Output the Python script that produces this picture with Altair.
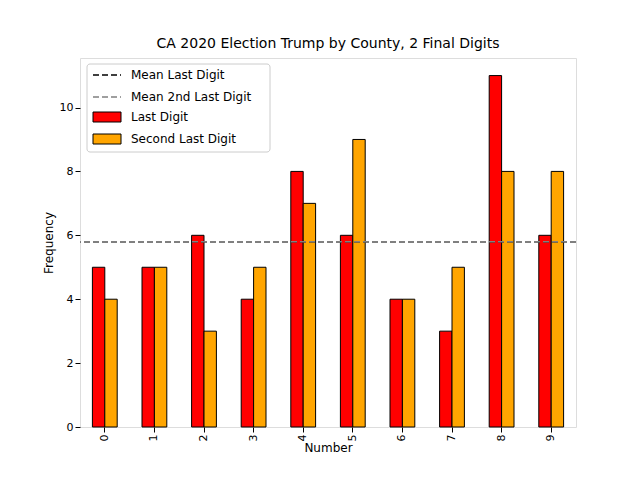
import altair as alt
import pandas as pd

digits = [str(i) for i in range(10)]
last_digit = [5, 5, 6, 4, 8, 6, 4, 3, 11, 6]
second_last = [4, 5, 3, 5, 7, 9, 4, 5, 8, 8]
series_names = ["Last Digit", "Second Last Digit"]
colors = ["#ff0000", "#ffa500"]

rows = []
for d, a, b in zip(digits, last_digit, second_last):
    rows.append({"Number": d, "series": series_names[0], "value": a})
    rows.append({"Number": d, "series": series_names[1], "value": b})
df = pd.DataFrame(rows)
mean_last = sum(last_digit) / len(last_digit)
mean_second = sum(second_last) / len(second_last)

yscale = alt.Scale(domain=[0, 11.55], nice=False)
bars = alt.Chart(df).mark_bar(stroke="black", strokeWidth=1).encode(
    x=alt.X("Number:N", sort=digits, title="Number",
            scale=alt.Scale(paddingInner=0.5, paddingOuter=0.25),
            axis=alt.Axis(labelAngle=-90, grid=False, domain=False, tickColor="black",
                          labelColor="black", titleColor="black", titleFontWeight="normal",
                          labelFontSize=11, titleFontSize=12, titlePadding=2)),
    xOffset=alt.XOffset("series:N", sort=series_names),
    y=alt.Y("value:Q", title="Frequency", scale=yscale,
            axis=alt.Axis(values=[0, 2, 4, 6, 8, 10], grid=False, domain=False, tickColor="black",
                          labelColor="black", titleColor="black", titleFontWeight="normal",
                          labelFontSize=11, titleFontSize=12)),
    color=alt.Color("series:N", scale=alt.Scale(domain=series_names, range=colors), legend=None),
)

mdf = pd.DataFrame({"m": [mean_last, mean_second], "c": ["black", "gray"]})
means = alt.Chart(mdf).mark_rule(strokeDash=[6, 3], strokeWidth=1.5).encode(
    y=alt.Y("m:Q", scale=yscale), color=alt.Color("c:N", scale=None))

# legend
leg_box = alt.Chart(pd.DataFrame({"a": [0]})).mark_rect(
    fill="white", stroke="#cccccc", cornerRadius=3).encode(
    x=alt.value(7), x2=alt.value(190), y=alt.value(6), y2=alt.value(94))
leg_lines = alt.Chart(pd.DataFrame({"y": [17, 39], "c": ["black", "gray"]})).mark_rule(
    strokeDash=[6, 3], strokeWidth=1.5).encode(
    x=alt.value(13), x2=alt.value(41), y=alt.Y("y:Q", scale=None), color=alt.Color("c:N", scale=None))
leg_sw = alt.Chart(pd.DataFrame({"y": [54, 76], "c": colors})).mark_rect(stroke="black").encode(
    x=alt.value(13), x2=alt.value(41), y=alt.Y("y:Q", scale=None), y2=alt.Y2("y2:Q"),
    color=alt.Color("c:N", scale=None)).transform_calculate(y2="datum.y + 10")
leg_txt = alt.Chart(pd.DataFrame({"y": [17, 39, 59, 81],
                                  "t": ["Mean Last Digit", "Mean 2nd Last Digit"] + series_names})
                    ).mark_text(align="left", baseline="middle", fontSize=12, color="black").encode(
    x=alt.value(51), y=alt.Y("y:Q", scale=None), text="t:N")

chart = alt.layer(bars, means, leg_box, leg_lines, leg_sw, leg_txt).properties(
    width=496, height=369,
    title=alt.Title("CA 2020 Election Trump by County, 2 Final Digits", fontSize=14,
                    fontWeight="normal", color="black", offset=7),
    autosize=alt.AutoSizeParams(type="none"),
    padding={"left": 72, "top": 50, "right": 56, "bottom": 45},
).configure_view(stroke="black", strokeWidth=1).configure(font="DejaVu Sans")

chart.save("out.html", embed_options={"renderer": "svg", "actions": False})
